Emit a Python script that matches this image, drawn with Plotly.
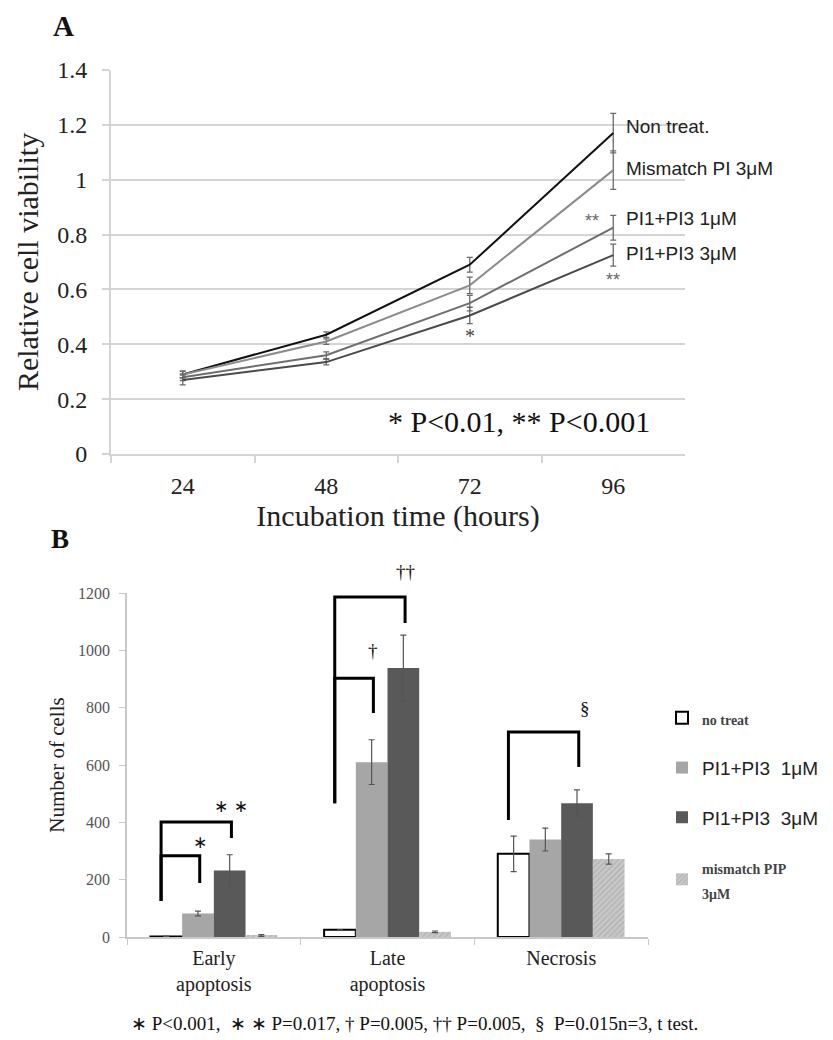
import plotly.graph_objects as go

# ---------------- Panel A data ----------------
hours = ["24", "48", "72", "96"]
non_treat = [0.29, 0.435, 0.69, 1.17]
non_treat_err = [0.012, 0.010, 0.027, 0.072]
mismatch_pi = [0.29, 0.41, 0.615, 1.035]
mismatch_pi_err = [0.012, 0.010, 0.030, 0.070]
pi13_1um = [0.28, 0.36, 0.55, 0.825]
pi13_1um_err = [0.012, 0.012, 0.028, 0.045]
pi13_3um = [0.27, 0.335, 0.505, 0.725]
pi13_3um_err = [0.018, 0.010, 0.030, 0.040]
line_names = ["Non treat.", "Mismatch PI 3μM", "PI1+PI3 1μM", "PI1+PI3 3μM"]
label_y = [1.193, 1.04, 0.858, 0.731]

# ---------------- Panel B data ----------------
stages = ["Early<br>apoptosis", "Late<br>apoptosis", "Necrosis"]
no_treat = [2, 25, 290]
no_treat_err = [1, 0, 62]
pip_1um = [82, 610, 340]
pip_1um_err = [8, 78, 40]
pip_3um = [232, 938, 467]
pip_3um_err = [55, 115, 46]
mismatch_pip = [5, 18, 272]
mismatch_pip_err = [3, 3, 18]
bar_names = ["no treat", "PI1+PI3  1μM", "PI1+PI3  3μM", "mismatch PIP<br>3μM"]

# brackets: (category index, target series index, left-bottom, top, right-bottom, label, label offset px)
brackets = [
    (0, 1, 126, 283, 188, "∗", 14),
    (0, 2, 126, 401, 345, "∗ ∗", 16),
    (1, 1, 467, 903, 781, "†", 28),
    (1, 2, 467, 1186, 1095, "††", 26),
    (2, 2, 408, 715, 593, "§", 24),
]

# The page body has an 8px margin; lay the figure out in window pixels.
OFF = 8
W, H = 833 - OFF, 1040 - OFF
def px(x):
    return (x - OFF) / W
def py(y):
    return 1 - (y - OFF) / H

SERIF = "Liberation Serif"
SANS = "Liberation Sans"

fig = go.Figure()

# ---------- Panel A traces ----------
a_series = [
    (non_treat, non_treat_err, "#111111"),
    (mismatch_pi, mismatch_pi_err, "#8c8c8c"),
    (pi13_1um, pi13_1um_err, "#6e6e6e"),
    (pi13_3um, pi13_3um_err, "#4a4a4a"),
]
for name, (vals, errs, col) in zip(line_names, a_series):
    fig.add_trace(go.Scatter(
        x=hours, y=vals, mode="lines", name=name, showlegend=False,
        line=dict(color=col, width=2),
        error_y=dict(type="data", array=errs, color="#6a6a6a", thickness=1.3, width=3),
        xaxis="x", yaxis="y",
    ))

# ---------- Panel B traces ----------
bargap = 0.27
gw = 1 - bargap
b_series = [
    (no_treat, no_treat_err, dict(color="white", line=dict(color="black", width=2))),
    (pip_1um, pip_1um_err, dict(color="#a6a6a6", line=dict(width=0))),
    (pip_3um, pip_3um_err, dict(color="#595959", line=dict(width=0))),
    (mismatch_pip, mismatch_pip_err, dict(color="#c4c4c4", line=dict(width=0),
                                          pattern=dict(shape="/", fgcolor="#9a9a9a", bgcolor="#c8c8c8",
                                                       size=4, solidity=0.35))),
]
name_fmt = [
    '<span style="font-family:Liberation Serif;font-size:14px;font-weight:bold;color:#444">{}</span>',
    "{}",
    "{}",
    '<span style="font-family:Liberation Serif;font-size:14px;font-weight:bold;color:#444">{}</span>',
]
for i, (name, (vals, errs, mk)) in enumerate(zip(bar_names, b_series)):
    fig.add_trace(go.Bar(
        x=stages, y=vals, name=name_fmt[i].format(name), marker=mk,
        legendgroup="g%d" % i,
        error_y=dict(type="data", array=errs, color="#555555", thickness=1.2, width=3),
        xaxis="x2", yaxis="y2",
    ))

def bar_center(cat, k):
    return cat - gw / 2 + gw / 8 + k * gw / 4

shapes = []
annotations = []
for cat, k, lb, top, rb, lab, off in brackets:
    x_left = bar_center(cat, 0) - 0.03
    x_right = bar_center(cat, k) + 0.01
    path = "M {a},{b} L {a},{c} L {d},{c} L {d},{e}".format(a=x_left, b=lb, c=top, d=x_right, e=rb)
    shapes.append(dict(type="path", path=path, xref="x2", yref="y2",
                       line=dict(color="black", width=3)))
    annotations.append(dict(x=x_right, y=top, xref="x2", yref="y2",
                            text=lab, showarrow=False, yshift=off,
                            xshift=6 if lab == "§" else 0,
                            font=dict(family="DejaVu Sans" if "∗" in lab else SERIF,
                                      size=17 if "∗" in lab else 19, color="#111")))

# ---------- Panel A annotations ----------
for name, y in zip(line_names, label_y):
    annotations.append(dict(x=3, y=y, xref="x", yref="y", text=name, showarrow=False,
                            xanchor="left", xshift=11, font=dict(family=SANS, size=19, color="#222")))
annotations += [
    dict(x=3, y=0.851, xref="x", yref="y", text="**", showarrow=False, xshift=-21,
         font=dict(family=SANS, size=18, color="#666")),
    dict(x=3, y=0.633, xref="x", yref="y", text="**", showarrow=False,
         font=dict(family=SANS, size=18, color="#666")),
    dict(x=2, y=0.429, xref="x", yref="y", text="*", showarrow=False,
         font=dict(family=SERIF, size=20, color="#444")),
]
paper_texts = [
    (519, 421, "* P<0.01, ** P<0.001", 30),
    (60, 539, "<b>B</b>", 27),
    (414, 1023, "∗ P<0.001,  ∗ ∗ P=0.017, † P=0.005, †† P=0.005,  §  P=0.015n=3, t test.", 19),
]
for x, y, t, s in paper_texts:
    annotations.append(dict(x=px(x), y=py(y), xref="paper", yref="paper", text=t, showarrow=False,
                            xanchor="center", yanchor="middle",
                            font=dict(family=SERIF, size=s, color="#111")))
annotations.append(dict(x=px(63), y=1, xref="paper", yref="paper", text="<b>A</b>", showarrow=False,
                        xanchor="center", yanchor="top", font=dict(family=SERIF, size=29, color="#111")))

grid_col = "#d4d4d4"
fig.update_layout(
    width=W, height=H,
    margin=dict(l=0, r=0, t=0, b=0, autoexpand=False),
    font=dict(family=SERIF),
    paper_bgcolor="white", plot_bgcolor="white",
    barmode="group", bargap=bargap, bargroupgap=0,
    showlegend=True,
    legend=dict(x=px(662), y=py(699), xanchor="left", yanchor="top",
                bgcolor="rgba(0,0,0,0)", tracegroupgap=22,
                font=dict(family=SANS, size=19, color="#222"), itemwidth=30),
    xaxis=dict(domain=[px(111), px(685)], anchor="y", type="category", automargin=False,
               range=[-0.5, 3.5], showgrid=False, showline=True, linecolor=grid_col, linewidth=2,
               ticks="outside", tickson="boundaries", ticklen=7, tickcolor=grid_col, tickwidth=2,
               ticklabelstandoff=9,
               tickfont=dict(family=SERIF, size=24, color="#222"),
               title=dict(text="Incubation time (hours)", font=dict(family=SERIF, size=30, color="#222"),
                          standoff=0)),
    yaxis=dict(domain=[py(454), py(70)], anchor="x", range=[0, 1.4], dtick=0.2, automargin=False,
               showgrid=True, gridcolor=grid_col, gridwidth=2, zeroline=False,
               showline=True, linecolor=grid_col, linewidth=2,
               ticks="outside", ticklen=7, tickcolor=grid_col, tickwidth=2,
               ticklabelstandoff=10,
               tickformat="~g",
               tickfont=dict(family=SERIF, size=24, color="#222"),
               title=dict(text="Relative cell viability", font=dict(family=SERIF, size=30, color="#222"),
                          standoff=10)),
    xaxis2=dict(domain=[px(127), px(648)], anchor="y2", type="category", automargin=False,
                range=[-0.5, 2.5], showgrid=False, showline=True, linecolor="#c8c8c8", linewidth=1.5,
                ticks="outside", tickson="boundaries", ticklen=6, tickcolor="#c8c8c8",
                ticklabelstandoff=2,
                tickfont=dict(family=SERIF, size=20, color="#222")),
    yaxis2=dict(domain=[py(937), py(593)], anchor="x2", range=[0, 1200], dtick=200, automargin=False,
                showgrid=False, zeroline=False, showline=True, linecolor="#c8c8c8", linewidth=1.5,
                ticks="outside", ticklen=6, tickcolor="#c8c8c8",
                ticklabelstandoff=6,
                tickfont=dict(family=SERIF, size=16, color="#555"),
                title=dict(text="Number of cells", font=dict(family=SERIF, size=21, color="#222"),
                           standoff=8)),
    shapes=shapes,
    annotations=annotations,
)

fig.write_html("out.html")
